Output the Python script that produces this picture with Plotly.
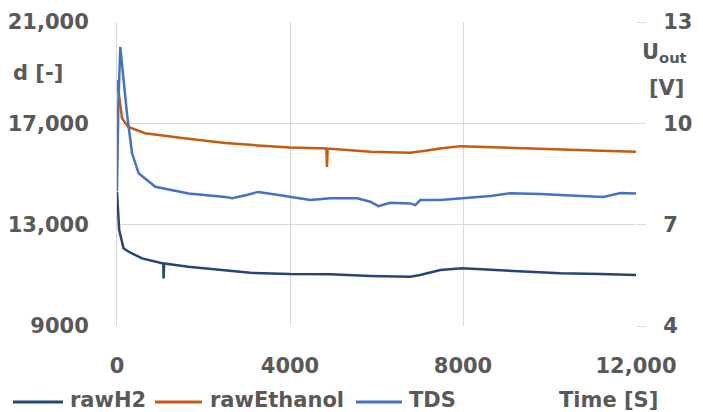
import plotly.graph_objects as go

# ---- data ----
h2_t = [0, 50, 150, 270, 580, 1000, 1070, 1078, 1090, 1650, 2500, 3080, 4000, 4930,
        5860, 6780, 7010, 7240, 7475, 7985, 8860, 9790, 10250, 11175, 12000]
h2_v = [14300, 12800, 12070, 11930, 11670, 11500, 11470, 10880, 11470, 11340, 11210, 11100,
        11050, 11040, 10975, 10945, 11010, 11100, 11210, 11276, 11210, 11143, 11080, 11050, 11010]

eth_t = [0, 60, 116, 260, 650, 1500, 2500, 3150, 4000, 4700, 4840, 4855, 4870, 5860, 6780,
         7130, 7475, 7940, 8800, 9790, 10250, 11200, 12000]
eth_v = [18700, 17800, 17200, 16860, 16610, 16420, 16220, 16140, 16050, 16020, 16010, 15280,
         16005, 15875, 15835, 15915, 16010, 16100, 16060, 16010, 15970, 15920, 15875]

tds_t = [0, 30, 76, 130, 231, 347, 500, 886, 1656, 2504, 2665, 3000, 3267, 3775, 4470, 4932,
         5556, 5857, 6041, 6319, 6780, 6897, 7013, 7475, 7940, 8633, 9096, 9790, 10368,
         11247, 11640, 12000]
tds_v = [8.0, 10.5, 12.26, 11.6, 10.29, 9.12, 8.52, 8.12, 7.92, 7.82, 7.78, 7.88, 7.97, 7.87,
         7.73, 7.78, 7.78, 7.68, 7.55, 7.65, 7.63, 7.58, 7.73, 7.73, 7.78, 7.85, 7.93, 7.91,
         7.87, 7.82, 7.94, 7.92]

x_ticks = [0, 4000, 8000, 12000]
x_ticktext = ["0", "4000", "8000", "12,000"]
y_ticks = [9000, 13000, 17000, 21000]
y_ticktext = ["9000", "13,000", "17,000", "21,000"]
y2_ticks = [4, 7, 10, 13]
y2_ticktext = ["4", "7", "10", "13"]

names = ["rawH2", "rawEthanol", "TDS"]
colors = ["#264478", "#C55A11", "#4472C4"]

# ---- layout geometry ----
W, H = 703, 412
L, R, T, B = 117, 636, 22, 326
TXT = "#595959"
GRID = "#D9D9D9"
FONT = dict(family="DejaVu Sans", size=21, color=TXT, weight="bold")


def px(x):
    return (x - L) / (R - L)


def py(y):
    return (B - y) / (B - T)


fig = go.Figure()
fig.add_trace(go.Scatter(x=h2_t, y=h2_v, mode="lines", name=names[0],
                         line=dict(color=colors[0], width=2.5), yaxis="y"))
fig.add_trace(go.Scatter(x=eth_t, y=eth_v, mode="lines", name=names[1],
                         line=dict(color=colors[1], width=2.5), yaxis="y"))
fig.add_trace(go.Scatter(x=tds_t, y=tds_v, mode="lines", name=names[2],
                         line=dict(color=colors[2], width=2.5), yaxis="y2"))

fig.update_layout(
    width=W, height=H,
    margin=dict(l=L, r=W - R, t=T, b=H - B, pad=0, autoexpand=False),
    paper_bgcolor="white", plot_bgcolor="white",
    showlegend=False,
    font=FONT,
    xaxis=dict(range=[0, 12000], tickvals=x_ticks, ticktext=x_ticktext,
               showgrid=True, gridcolor=GRID, gridwidth=1, zeroline=False,
               showline=False, ticks="", ticklabelstandoff=25, automargin=False,
               tickfont=FONT),
    yaxis=dict(range=[9000, 21000], tickvals=y_ticks, ticktext=y_ticktext,
               showgrid=True, gridcolor=GRID, gridwidth=1, zeroline=False,
               showline=True, linecolor=GRID, linewidth=1, ticks="",
               ticklabelstandoff=23, automargin=False, tickfont=FONT),
    yaxis2=dict(range=[4, 13], tickvals=y2_ticks, ticktext=y2_ticktext,
                overlaying="y", side="right", showgrid=False, zeroline=False,
                showline=False, ticks="outside", ticklen=9, tickcolor=GRID,
                tickwidth=1, ticklabelstandoff=13, automargin=False, tickfont=FONT),
)

ann = [
    dict(text="d [-]", x=px(38), y=py(73)),
    dict(text="U<sub>out</sub>", x=px(640), y=py(53), xanchor="left"),
    dict(text="[V]", x=px(666), y=py(88)),
    dict(text="Time [S]", x=px(608), y=py(400)),
]
# manual legend
leg = [(13, 63, 68), (155, 202, 208), (356, 402, 407)]
shapes = []
for (x0, x1, xt), nm, c in zip(leg, names, colors):
    shapes.append(dict(type="line", xref="paper", yref="paper",
                       x0=px(x0), x1=px(x1), y0=py(402), y1=py(402),
                       line=dict(color=c, width=3)))
    ann.append(dict(text=nm, x=px(xt), y=py(400), xanchor="left"))

for a in ann:
    a.setdefault("xanchor", "center")
    fig.add_annotation(xref="paper", yref="paper", showarrow=False,
                       yanchor="middle", font=FONT, **a)
fig.update_layout(shapes=shapes)

fig.write_html("out.html")
